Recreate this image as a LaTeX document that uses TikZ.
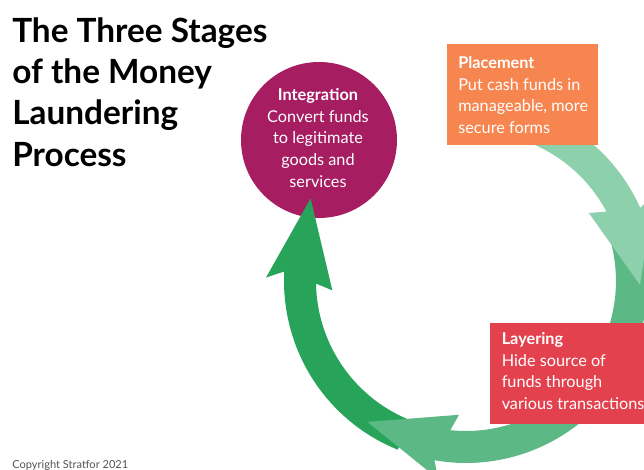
\documentclass[tikz,border=0pt]{standalone}
\usepackage{fontspec}
\setmainfont{Lato}
\definecolor{lightg}{HTML}{8DD0AC}
\definecolor{midg}{HTML}{5CB884}
\definecolor{darkg}{HTML}{27A35A}
\definecolor{placec}{HTML}{F7854F}
\definecolor{layerc}{HTML}{E4414F}
\definecolor{integc}{HTML}{A61D62}
\definecolor{copyc}{HTML}{555555}
% #1 = inner barb angle, #2 = start angle, #3 = colour, #4 = tip radius
\newcommand\ringarrow[4]{%
  \fill[#3] plot[domain=#2:#1+7, samples=50] (\x:182)
    -- (#1+5:200) -- (#1+32:#4) -- (#1:134) -- (#1+3:150)
    -- plot[domain=#2:#1+3, samples=50] ({#2+#1+3-\x}:150) -- cycle;}
\begin{document}
\begin{tikzpicture}[x=0.75pt,y=-0.75pt,
  boxst/.style={rectangle, inner sep=0pt, draw=none},
  bodytext/.style={anchor=north west, inner sep=0pt, align=left, text=white,
    font=\fontsize{12.2}{16.3}\selectfont}]
\useasboundingbox (0,0) rectangle (644,470);
\clip (0,0) rectangle (644,470);
\fill[white] (0,0) rectangle (644,470);

% Integration circle
\node[circle, fill=integc, minimum size=117pt, inner sep=0pt] (integ) at (319,140) {};

% ring of arrows
\begin{scope}[shift={(466,281)}]
  \ringarrow{176}{112}{darkg}{176}
  \ringarrow{93}{-15}{midg}{172}
\end{scope}
\begin{scope}[shift={(474,282)}]
  \ringarrow{329}{285}{lightg}{166}
\end{scope}

% boxes
\node[boxst, fill=placec, minimum width=113.25pt, minimum height=75.75pt, anchor=north west] (placement) at (447,44) {};
\node[boxst, fill=layerc, minimum width=127.5pt, minimum height=75.75pt, anchor=north west] (layering) at (490,322.7) {};

% texts
\node[bodytext] (placetext) at (458,56) {\textbf{Placement}\\Put cash funds in\\manageable, more\\secure forms};
\node[bodytext] (layertext) at (501.5,332) {\textbf{Layering}\\Hide source of\\funds through\\various transactions};
\node[bodytext, anchor=north, align=center] (integtext) at (318,88) {\textbf{Integration}\\Convert funds\\to legitimate\\goods and\\services};

% title
\node[anchor=north west, inner sep=0pt, align=left, font=\fontsize{25}{31}\selectfont\bfseries] (title) at (12,17) {The Three Stages\\of the Money\\Laundering\\Process};

% copyright
\node[anchor=base west, inner sep=0pt, text=copyc, font=\fontsize{8.3}{10}\selectfont] (copy) at (12,469) {Copyright Stratfor 2021};
\end{tikzpicture}
\end{document}
